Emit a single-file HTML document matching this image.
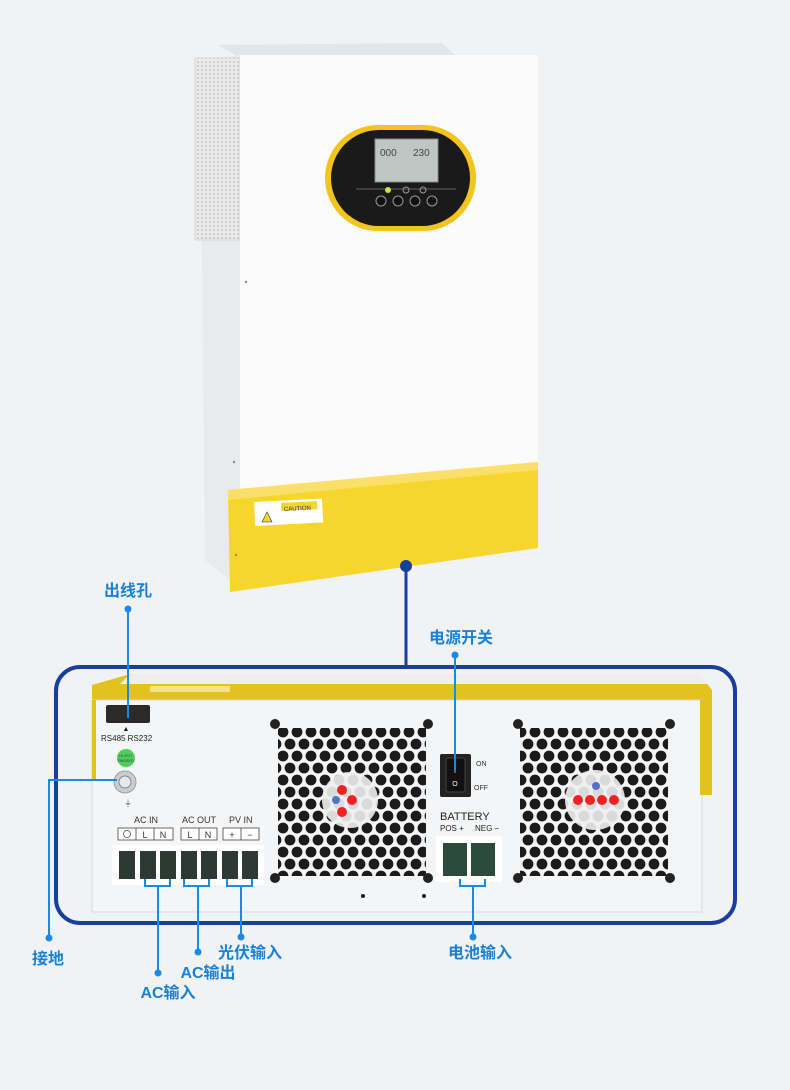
<!DOCTYPE html>
<html><head><meta charset="utf-8"><style>
html,body{margin:0;padding:0;background:#f1f2f4;}
svg{display:block}
text{font-family:"Liberation Sans","Noto Sans CJK SC",sans-serif}
.lb{fill:#1682da;font-size:16px;font-weight:bold;font-family:"Liberation Sans","Noto Sans CJK SC",sans-serif}
.sm{fill:#333;font-size:9px}
</style></head><body>
<svg width="790" height="1090" viewBox="0 0 790 1090" xmlns="http://www.w3.org/2000/svg">
<defs>
<pattern id="hex" x="276" y="726" width="14" height="24" patternUnits="userSpaceOnUse">
<circle cx="7" cy="6" r="5.4" fill="#1b1b1b"/>
<circle cx="0" cy="18" r="5.4" fill="#1b1b1b"/>
<circle cx="14" cy="18" r="5.4" fill="#1b1b1b"/>
</pattern>
<pattern id="vent" width="4" height="4" patternUnits="userSpaceOnUse">
<rect width="4" height="4" fill="#ebebeb"/><circle cx="2" cy="2" r="0.9" fill="#b8b8b8"/>
</pattern>
</defs>
<rect width="790" height="1090" fill="#f1f2f4"/>

<!-- top device -->
<polygon points="218,45 442,43 455,55 240,58" fill="#e4e5e7"/>
<polygon points="200,60 242,55 242,590 205,560" fill="#e9eaec"/>
<rect x="195" y="58" width="45" height="182" fill="url(#vent)" stroke="#d6d6d6"/>
<rect x="240" y="55" width="298" height="440" fill="#fbfbfb"/>
<polygon points="228,490 538,462 538,548 230,592" fill="#f6d52c"/>
<polygon points="228,490 538,462 538,470 228,500" fill="#fae068"/>
<rect x="254" y="502" width="68" height="24" fill="#fff" transform="rotate(-3 254 502)"/>
<rect x="281" y="503" width="36" height="8" fill="#f3d530" transform="rotate(-3 281 503)"/>
<text x="284" y="511" font-size="6" fill="#333" transform="rotate(-3 284 511)">CAUTION</text>
<polygon points="262,522 267,512 272,522" fill="#f3d530" stroke="#333" stroke-width="0.6"/>
<circle cx="246" cy="282" r="1.2" fill="#888"/><circle cx="234" cy="462" r="1.2" fill="#888"/><circle cx="236" cy="555" r="1.2" fill="#888"/>
<!-- display -->
<rect x="325" y="125" width="151" height="106" rx="53" fill="#f4c41e"/>
<rect x="331" y="130" width="139" height="96" rx="48" fill="#1a1a1a"/>
<rect x="375" y="139" width="63" height="43" fill="#bfc7c4" stroke="#888"/>
<text x="380" y="156" font-size="10" fill="#444">000</text>
<text x="413" y="156" font-size="10" fill="#444">230</text>
<line x1="356" y1="189" x2="456" y2="189" stroke="#777" stroke-width="0.8"/>
<circle cx="388" cy="190" r="3" fill="#cde34a"/><circle cx="406" cy="190" r="3" fill="none" stroke="#999"/><circle cx="423" cy="190" r="3" fill="none" stroke="#999"/>
<circle cx="381" cy="201" r="5" fill="#111" stroke="#999"/><circle cx="398" cy="201" r="5" fill="#111" stroke="#999"/><circle cx="415" cy="201" r="5" fill="#111" stroke="#999"/><circle cx="432" cy="201" r="5" fill="#111" stroke="#999"/>

<!-- connector top -->
<line x1="406" y1="566" x2="406" y2="667" stroke="#1a3e9c" stroke-width="3"/>
<circle cx="406" cy="566" r="6" fill="#1a3e9c"/>

<!-- bottom panel -->
<polygon points="92,685 130,674 700,674 712,690 712,705 92,705" fill="#e3c21f"/>
<polygon points="130,674 700,674 708,684 120,684" fill="#eeeeee"/>
<rect x="150" y="686" width="80" height="6" fill="#f6e28a"/>
<rect x="92" y="700" width="610" height="212" fill="#f4f5f6" stroke="#d9d9d9"/>
<rect x="700" y="700" width="12" height="95" fill="#e3c21f"/>
<rect x="92" y="700" width="4" height="80" fill="#e3c21f"/>
<!-- port -->
<rect x="106" y="705" width="44" height="18" rx="2" fill="#2a2a2a"/>
<text x="126" y="731" font-size="7" fill="#222" text-anchor="middle">▲</text>
<text x="101" y="741" font-size="8" fill="#222">RS485 RS232</text>
<circle cx="126" cy="758" r="9" fill="#4fcf5a"/>
<text x="126" y="757" font-size="4" fill="#245" text-anchor="middle">HI-POT</text>
<text x="126" y="762" font-size="4" fill="#245" text-anchor="middle">PASSED</text>
<circle cx="125" cy="782" r="11" fill="#c9cdd2" stroke="#9aa0a6"/>
<circle cx="125" cy="782" r="6" fill="#e6e8ea" stroke="#888"/>
<text x="124" y="806" font-size="8" fill="#555">⏚</text>
<!-- terminal labels -->
<text x="134" y="823" class="sm" font-size="8.5">AC IN</text>
<text x="182" y="823" class="sm" font-size="8.5">AC OUT</text>
<text x="229" y="823" class="sm" font-size="8.5">PV IN</text>
<rect x="118" y="828" width="55" height="12" fill="#fff" stroke="#444" stroke-width="0.8"/>
<line x1="136" y1="828" x2="136" y2="840" stroke="#444" stroke-width="0.8"/><line x1="154" y1="828" x2="154" y2="840" stroke="#444" stroke-width="0.8"/>
<text x="145" y="838" class="sm" text-anchor="middle">L</text><text x="163" y="838" class="sm" text-anchor="middle">N</text>
<circle cx="127" cy="834" r="3.5" fill="none" stroke="#444" stroke-width="0.7"/>
<rect x="181" y="828" width="36" height="12" fill="#fff" stroke="#444" stroke-width="0.8"/>
<line x1="199" y1="828" x2="199" y2="840" stroke="#444" stroke-width="0.8"/>
<text x="190" y="838" class="sm" text-anchor="middle">L</text><text x="208" y="838" class="sm" text-anchor="middle">N</text>
<rect x="223" y="828" width="36" height="12" fill="#fff" stroke="#444" stroke-width="0.8"/>
<line x1="241" y1="828" x2="241" y2="840" stroke="#444" stroke-width="0.8"/>
<text x="232" y="838" class="sm" text-anchor="middle">+</text><text x="250" y="838" class="sm" text-anchor="middle">−</text>
<rect x="112" y="845" width="152" height="40" fill="#fff"/>
<g fill="#2d3a33">
<rect x="119" y="851" width="16" height="28"/><rect x="140" y="851" width="16" height="28"/><rect x="160" y="851" width="16" height="28"/>
<rect x="181" y="851" width="16" height="28"/><rect x="201" y="851" width="16" height="28"/><rect x="222" y="851" width="16" height="28"/><rect x="242" y="851" width="16" height="28"/>
</g>
<!-- fans -->
<rect x="278" y="728" width="148" height="148" fill="url(#hex)"/>
<rect x="520" y="728" width="148" height="148" fill="url(#hex)"/>
<g fill="#222"><circle cx="275" cy="724" r="5"/><circle cx="428" cy="724" r="5"/><circle cx="275" cy="878" r="5"/><circle cx="428" cy="878" r="5"/>
<circle cx="518" cy="724" r="5"/><circle cx="670" cy="724" r="5"/><circle cx="518" cy="878" r="5"/><circle cx="670" cy="878" r="5"/></g>
<circle cx="350" cy="800" r="28" fill="#f0f0f0" opacity="0.9"/>
<circle cx="342" cy="790" r="5" fill="#e22"/><circle cx="352" cy="800" r="5" fill="#e22"/><circle cx="342" cy="812" r="5" fill="#e22"/><circle cx="336" cy="800" r="4" fill="#5570d0"/>
<circle cx="595" cy="800" r="30" fill="#f0f0f0" opacity="0.9"/>
<circle cx="578" cy="800" r="5" fill="#e22"/><circle cx="590" cy="800" r="5" fill="#e22"/><circle cx="602" cy="800" r="5" fill="#e22"/><circle cx="614" cy="800" r="5" fill="#e22"/><circle cx="596" cy="786" r="4" fill="#5570d0"/>
<circle cx="363" cy="896" r="2" fill="#222"/><circle cx="424" cy="896" r="2" fill="#222"/>
<!-- switch -->
<rect x="440" y="754" width="31" height="43" rx="2" fill="#222"/>
<rect x="446" y="758" width="19" height="34" rx="2" fill="#111" stroke="#444"/>
<text x="455" y="773" font-size="7" fill="#fff" text-anchor="middle">I</text>
<text x="455" y="786" font-size="7" fill="#fff" text-anchor="middle">O</text>
<text x="476" y="766" font-size="7" fill="#333">ON</text>
<text x="474" y="790" font-size="7" fill="#333">OFF</text>
<text x="440" y="820" font-size="11" fill="#222">BATTERY</text>
<text x="440" y="831" font-size="8" fill="#222">POS +</text>
<text x="475" y="831" font-size="8" fill="#222">NEG −</text>
<rect x="436" y="836" width="66" height="46" fill="#fff"/>
<rect x="443" y="843" width="24" height="33" fill="#2c4a3c"/>
<rect x="471" y="843" width="24" height="33" fill="#2c4a3c"/>

<!-- blue frame -->
<rect x="56" y="667" width="679" height="256" rx="24" fill="none" stroke="#1a3e9c" stroke-width="4"/>

<!-- callouts -->
<g stroke="#1a8ae6" stroke-width="2" fill="none">
<line x1="128" y1="609" x2="128" y2="718"/>
<line x1="455" y1="655" x2="455" y2="770"/>
<polyline points="49,938 49,780 117,780"/>
<polyline points="145,879 145,886 170,886 170,879"/><line x1="158" y1="886" x2="158" y2="973"/>
<polyline points="184,879 184,886 209,886 209,879"/><line x1="198" y1="886" x2="198" y2="952"/>
<polyline points="227,879 227,886 252,886 252,879"/><line x1="241" y1="886" x2="241" y2="937"/>
<polyline points="460,879 460,886 485,886 485,879"/><line x1="473" y1="886" x2="473" y2="937"/>
</g>
<g fill="#1a8ae6">
<circle cx="128" cy="609" r="3.5"/><circle cx="455" cy="655" r="3.5"/><circle cx="49" cy="938" r="3.5"/>
<circle cx="158" cy="973" r="3.5"/><circle cx="198" cy="952" r="3.5"/><circle cx="241" cy="937" r="3.5"/><circle cx="473" cy="937" r="3.5"/>
</g>
<text x="128" y="596" class="lb" text-anchor="middle">出线孔</text>
<text x="461" y="643" class="lb" text-anchor="middle">电源开关</text>
<text x="48" y="964" class="lb" text-anchor="middle">接地</text>
<text x="168" y="998" class="lb" text-anchor="middle">AC输入</text>
<text x="208" y="978" class="lb" text-anchor="middle">AC输出</text>
<text x="250" y="958" class="lb" text-anchor="middle">光伏输入</text>
<text x="480" y="958" class="lb" text-anchor="middle">电池输入</text>
</svg>
</body></html>
